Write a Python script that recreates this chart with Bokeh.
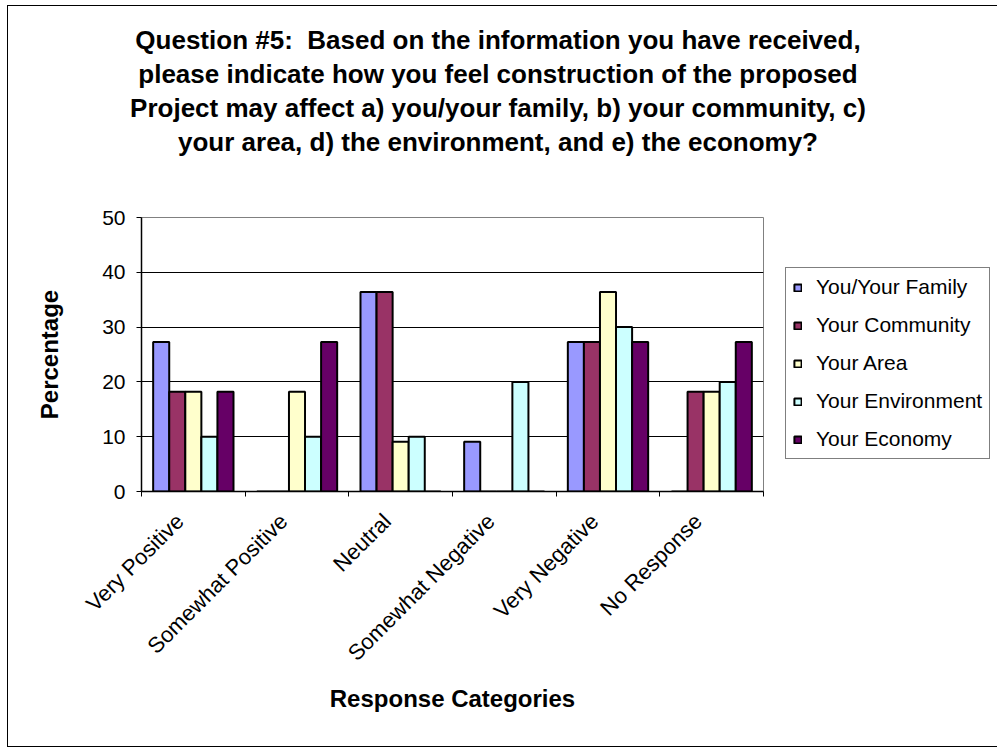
import numpy as np
from bokeh.plotting import figure
from bokeh.models import Range1d, FixedTicker, Legend, LegendItem, ColumnDataSource, Div
from bokeh.layouts import column
from bokeh.embed import file_html
from bokeh.resources import INLINE

categories = ["Very Positive", "Somewhat Positive", "Neutral", "Somewhat Negative", "Very Negative", "No Response"]
series_names = ["You/Your Family", "Your Community", "Your Area", "Your Environment", "Your Economy"]
family = [27.3, 0, 36.4, 9.1, 27.3, 0]
community = [18.2, 0, 36.4, 0, 27.3, 18.2]
area = [18.2, 18.2, 9.1, 0, 36.4, 18.2]
environment = [10, 10, 10, 20, 30, 20]
economy = [18.2, 27.3, 0, 0, 27.3, 27.3]
series_values = [family, community, area, environment, economy]
colors = ["#9999FF", "#993366", "#FFFFCC", "#CCFFFF", "#660066"]
y_ticks = [0, 10, 20, 30, 40, 50]
title_lines = [
    "Question #5:&nbsp; Based on the information you have received,",
    "please indicate how you feel construction of the proposed",
    "Project may affect a) you/your family, b) your community, c)",
    "your area, d) the environment, and e) the economy?",
]

FONT = "Liberation Sans"

title_div = Div(
    text='<div style="text-align:center; font-family:\'Liberation Sans\'; font-size:26px; '
         'font-weight:bold; line-height:34px; padding-top:17px; color:black; width:980px;">'
         + "<br>".join(title_lines) + "</div>",
    width=980, height=168, margin=0)

p = figure(width=980, height=572, output_backend="svg", toolbar_location=None,
           x_range=Range1d(0, len(categories)), y_range=Range1d(0, 50),
           frame_width=622, frame_height=274,
           min_border_left=133, min_border_top=43, min_border_right=225, min_border_bottom=255,
           margin=0)
p.background_fill_color = "white"
p.border_fill_color = "white"
p.outline_line_color = "#808080"
p.outline_line_width = 1

bar_w = 0.155
centers = np.arange(len(categories)) + 0.5
items = []
for i, (name, vals, col) in enumerate(zip(series_names, series_values, colors)):
    off = (i - 2) * bar_w
    src = ColumnDataSource(dict(x=centers + off, top=vals))
    r = p.vbar(x="x", top="top", width=bar_w, bottom=0, source=src,
               fill_color=col, line_color="black", line_width=2)
    items.append(LegendItem(label=name, renderers=[r]))

# grid
p.xgrid.grid_line_color = None
p.ygrid.grid_line_color = "black"
p.ygrid.grid_line_width = 1
p.ygrid.ticker = FixedTicker(ticks=y_ticks)

# y axis
p.yaxis.ticker = FixedTicker(ticks=y_ticks)
p.yaxis.minor_tick_line_color = None
p.yaxis.major_tick_out = 5
p.yaxis.major_tick_in = 0
p.yaxis.axis_line_color = "black"
p.yaxis.axis_line_width = 1.5
p.yaxis.major_label_text_font = FONT
p.yaxis.major_label_text_font_size = "21px"
p.yaxis.major_label_text_color = "black"
p.yaxis.major_label_standoff = 11
p.yaxis.axis_label = "Percentage"
p.yaxis.axis_label_text_font = FONT
p.yaxis.axis_label_text_font_size = "24px"
p.yaxis.axis_label_text_font_style = "bold"
p.yaxis.axis_label_text_color = "black"
p.yaxis.axis_label_standoff = 36

# x axis: category labels anchored slightly left of each group centre, ticks at boundaries
label_shift = 0.13
label_pos = [float(c - label_shift) for c in centers]
p.xaxis.ticker = FixedTicker(ticks=label_pos, minor_ticks=list(range(len(categories) + 1)))
p.xaxis.major_label_overrides = {pos: lab for pos, lab in zip(label_pos, categories)}
p.xaxis.major_tick_line_color = None
p.xaxis.major_tick_out = 0
p.xaxis.major_tick_in = 0
p.xaxis.minor_tick_line_color = "black"
p.xaxis.minor_tick_out = 5
p.xaxis.minor_tick_in = 0
p.xaxis.axis_line_color = "black"
p.xaxis.axis_line_width = 1.5
p.xaxis.major_label_orientation = np.pi / 4
p.xaxis.major_label_text_font = FONT
p.xaxis.major_label_text_font_size = "22px"
p.xaxis.major_label_text_color = "black"
p.xaxis.major_label_standoff = 21
p.xaxis.axis_label = "Response Categories"
p.xaxis.axis_label_text_font = FONT
p.xaxis.axis_label_text_font_size = "24px"
p.xaxis.axis_label_text_font_style = "bold"
p.xaxis.axis_label_text_color = "black"
p.xaxis.axis_label_standoff = 8

# legend
legend = Legend(items=items, location=(22, 32))
legend.label_text_font = FONT
legend.label_text_font_size = "21px"
legend.label_text_color = "black"
legend.glyph_width = 9
legend.glyph_height = 9
legend.label_standoff = 14
legend.label_height = 20
legend.spacing = 14
legend.padding = 7
legend.margin = 0
legend.border_line_color = "black"
legend.border_line_width = 1
legend.background_fill_color = "white"
p.add_layout(legend, "right")

layout = column(title_div, p, spacing=0,
                styles={"border": "1px solid black", "margin-left": "7px", "margin-top": "5px",
                        "background-color": "white"})

open("out.html", "w").write(file_html(layout, INLINE))
